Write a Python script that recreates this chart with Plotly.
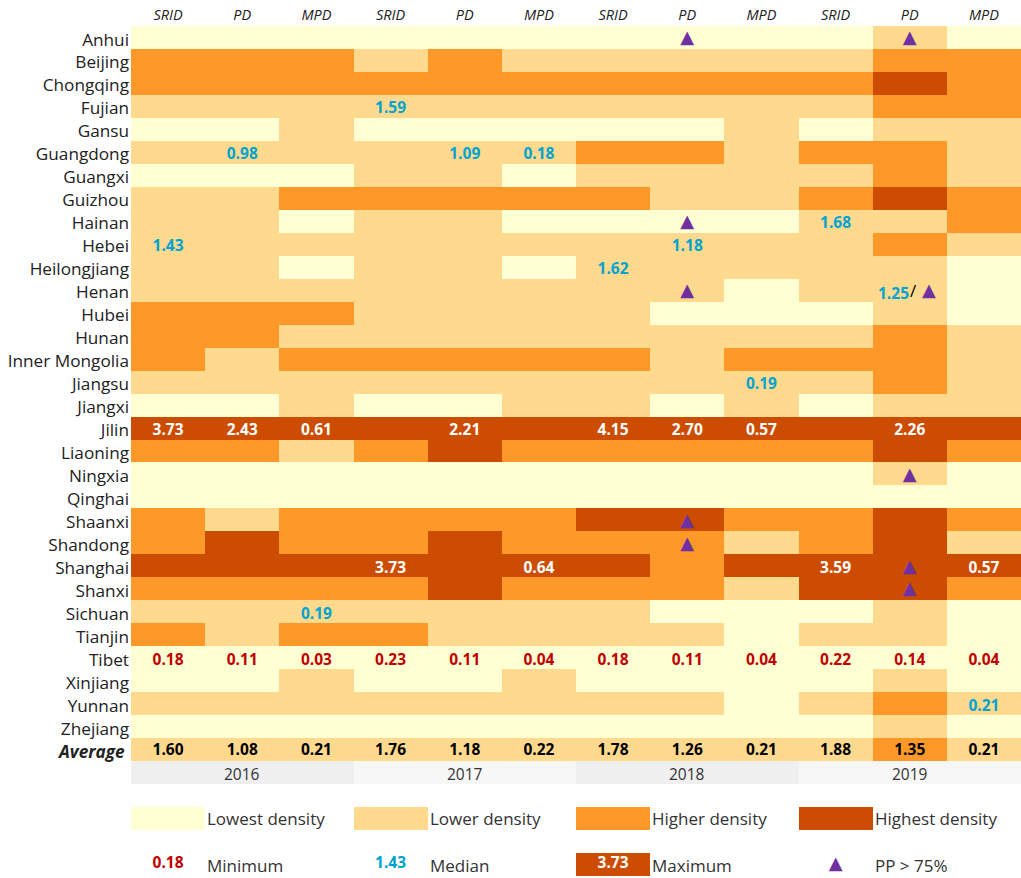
import plotly.graph_objects as go

provinces = ["Anhui","Beijing","Chongqing","Fujian","Gansu","Guangdong","Guangxi","Guizhou","Hainan","Hebei",
             "Heilongjiang","Henan","Hubei","Hunan","Inner Mongolia","Jiangsu","Jiangxi","Jilin","Liaoning",
             "Ningxia","Qinghai","Shaanxi","Shandong","Shanghai","Shanxi","Sichuan","Tianjin","Tibet",
             "Xinjiang","Yunnan","Zhejiang","Average"]
measures = ["SRID","PD","MPD"] * 4
years = ["2016","2017","2018","2019"]
density_labels = ["Lowest density","Lower density","Higher density","Highest density"]
colors = ["#FFFFD4","#FED98E","#FE9929","#CC4C02","#EFEFEF","#F7F7F7"]

density = [
 [0,0,0,0,0,0,0,0,0,0,1,0],
 [2,2,2,1,2,1,1,1,1,1,2,2],
 [2,2,2,2,2,2,2,2,2,2,3,2],
 [1,1,1,1,1,1,1,1,1,1,2,2],
 [0,0,1,0,0,0,0,0,1,0,1,1],
 [1,1,1,1,1,1,2,2,1,2,2,1],
 [0,0,0,1,1,0,1,1,1,1,2,1],
 [1,1,2,2,2,2,2,1,1,2,3,2],
 [1,1,0,1,1,0,0,0,0,1,1,2],
 [1,1,1,1,1,1,1,1,1,1,2,1],
 [1,1,0,1,1,0,1,1,1,1,1,0],
 [1,1,1,1,1,1,1,1,0,1,1,0],
 [2,2,2,1,1,1,1,0,0,0,1,0],
 [2,2,1,1,1,1,1,1,1,1,2,1],
 [2,1,2,2,2,2,2,1,2,2,2,1],
 [1,1,1,1,1,1,1,1,1,1,2,1],
 [0,0,1,0,0,1,1,0,1,0,1,1],
 [3,3,3,3,3,3,3,3,3,3,3,3],
 [2,2,1,2,3,2,2,2,2,2,3,2],
 [0,0,0,0,0,0,0,0,0,0,1,0],
 [0,0,0,0,0,0,0,0,0,0,0,0],
 [2,1,2,2,2,2,3,3,2,2,3,2],
 [2,3,2,2,3,2,2,2,1,2,3,1],
 [3,3,3,3,3,3,3,2,3,3,3,3],
 [2,2,2,2,3,2,2,2,1,3,3,2],
 [1,1,1,1,1,1,1,0,0,0,1,0],
 [2,1,2,2,1,1,1,1,0,1,1,0],
 [0,0,0,0,0,0,0,0,0,0,0,0],
 [0,0,1,0,0,1,0,0,0,0,1,0],
 [1,1,1,1,1,1,1,1,0,1,2,1],
 [0,0,0,0,0,0,0,0,0,0,1,0],
 [1,1,1,1,1,1,1,1,1,1,2,1],
]
year_band = [4,4,4,5,5,5,4,4,4,5,5,5]
legend_row = [0,None,None,1,None,None,2,None,None,3,None,None]
key_row = [None]*6 + [3] + [None]*5

average_values = ["1.60","1.08","0.21","1.76","1.18","0.22","1.78","1.26","0.21","1.88","1.35","0.21"]
minimum_values = ["0.18","0.11","0.03","0.23","0.11","0.04","0.18","0.11","0.04","0.22","0.14","0.04"]
median_province = ["Fujian","Guangdong","Guangdong","Guangdong","Hainan","Hebei","Hebei","Heilongjiang","Jiangsu","Sichuan","Yunnan"]
median_column = [3,1,4,5,9,0,7,6,8,2,11]
median_values = ["1.59","0.98","1.09","0.18","1.68","1.43","1.18","1.62","0.19","0.19","0.21"]
max_province = ["Jilin"]*8 + ["Shanghai"]*4
max_column = [0,1,2,4,6,7,8,10,3,5,9,11]
max_values = ["3.73","2.43","0.61","2.21","4.15","2.70","0.57","2.26","3.73","0.64","3.59","0.57"]
pp_province = ["Anhui","Anhui","Hainan","Henan","Ningxia","Shaanxi","Shandong","Shanghai","Shanxi"]
pp_column = [7,10,7,7,10,7,7,10,10]

RED = "#C00000"
CYAN = "#00A3D0"
PURPLE = "#7030A0"
GREY_TEXT = "#333333"
VAL_FONT = "Open Sans"
LAB_FONT = "Open Sans"
VAL_SIZE = 15.5
TRI = "\u25B2"
row_of = {p: i for i, p in enumerate(provinces)}
YEAR_ROW, LEGEND_ROW, KEY_ROW = len(provinces), len(provinces) + 2, len(provinces) + 4
TEXT_DY = 0.13

z = density + [year_band, [None]*12, legend_row, [None]*12, key_row]
n = len(colors)
scale = []
for i, c in enumerate(colors):
    scale += [[i / n, c], [(i + 1) / n, c]]

fig = go.Figure()
fig.add_trace(go.Heatmap(z=z, x=list(range(12)), y=list(range(len(z))), zmin=-0.5, zmax=n - 0.5,
                         colorscale=scale, showscale=False, hoverinfo="skip"))

def add_text(xs, ys, texts, color, dy=TEXT_DY):
    fig.add_trace(go.Scatter(x=xs, y=[v + dy for v in ys], text=texts, mode="text", textposition="middle center",
                             textfont=dict(family=VAL_FONT, size=VAL_SIZE, color=color, weight=700),
                             hoverinfo="skip", showlegend=False, cliponaxis=False))

cols = list(range(12))
add_text(cols, [row_of["Average"]]*12, average_values, "#000000", dy=0.06)
add_text(cols, [row_of["Tibet"]]*12, minimum_values, RED)
add_text(median_column, [row_of[p] for p in median_province], median_values, CYAN)
add_text(max_column, [row_of[p] for p in max_province], max_values, "#FFFFFF")
add_text([0], [KEY_ROW], ["0.18"], RED, dy=0)
add_text([3], [KEY_ROW], ["1.43"], CYAN, dy=0)
add_text([6], [KEY_ROW], ["3.73"], "#FFFFFF", dy=0)

fig.add_trace(go.Scatter(x=pp_column + [9], y=[row_of[p] + 0.05 for p in pp_province] + [KEY_ROW], mode="text",
                         text=[TRI] * (len(pp_column) + 1), textposition="middle center",
                         textfont=dict(family="DejaVu Sans", size=18, color=PURPLE),
                         hoverinfo="skip", showlegend=False))

annotations = []
# Henan 2019 PD: median value, slash and triangle share one cell
annotations.append(dict(x=10, y=row_of["Henan"] + TEXT_DY, text="1.25", showarrow=False, xshift=-16,
                        font=dict(family=VAL_FONT, size=VAL_SIZE, color=CYAN, weight=700)))
annotations.append(dict(x=10, y=row_of["Henan"], text="/", showarrow=False, xshift=4,
                        font=dict(family=LAB_FONT, size=17, color="#000000")))
annotations.append(dict(x=10, y=row_of["Henan"], text=TRI, showarrow=False, xshift=19, yshift=1,
                        font=dict(family="DejaVu Sans", size=18, color=PURPLE)))
for i, label in enumerate(years):
    annotations.append(dict(x=3 * i + 1, y=YEAR_ROW + 0.05, text=label, showarrow=False,
                            font=dict(family=LAB_FONT, size=15.5, color=GREY_TEXT)))
for i, label in enumerate(density_labels):
    annotations.append(dict(x=3 * i + 0.5, y=LEGEND_ROW, text=label, showarrow=False, xanchor="left", xshift=0,
                            font=dict(family=LAB_FONT, size=17, color=GREY_TEXT)))
for i, label in enumerate(["Minimum","Median","Maximum","PP > 75%"]):
    annotations.append(dict(x=3 * i + 0.5, y=KEY_ROW + 0.04, text=label, showarrow=False, xanchor="left", xshift=0,
                            font=dict(family=LAB_FONT, size=17, color=GREY_TEXT)))

fig.update_layout(
    width=1021, height=878, margin=dict(l=131, r=0, t=26, b=2),
    paper_bgcolor="#FFFFFF", plot_bgcolor="#FFFFFF", showlegend=False, annotations=annotations,
    xaxis=dict(side="top", range=[-0.5, 11.5], tickmode="array", tickvals=cols, ticktext=measures,
               tickfont=dict(family=LAB_FONT, size=14.5, style="italic", color="#222222"),
               ticklabelstandoff=2,
               showgrid=False, zeroline=False, showline=False, ticks=""),
    yaxis=dict(range=[len(z) - 0.5, -0.5], tickmode="array", tickvals=list(range(len(provinces))),
               ticktext=[p if p != "Average" else "<b><i>Average</i></b>&nbsp;" for p in provinces],
               tickfont=dict(family=LAB_FONT, size=17.2, color="#222222"),
               ticklabelstandoff=1, ticklabelshift=-2,
               showgrid=False, zeroline=False, showline=False, ticks=""),
)

fig.write_html("out.html", config={"displayModeBar": False},
               post_script="document.body.style.margin='0';document.body.style.overflow='hidden';")
